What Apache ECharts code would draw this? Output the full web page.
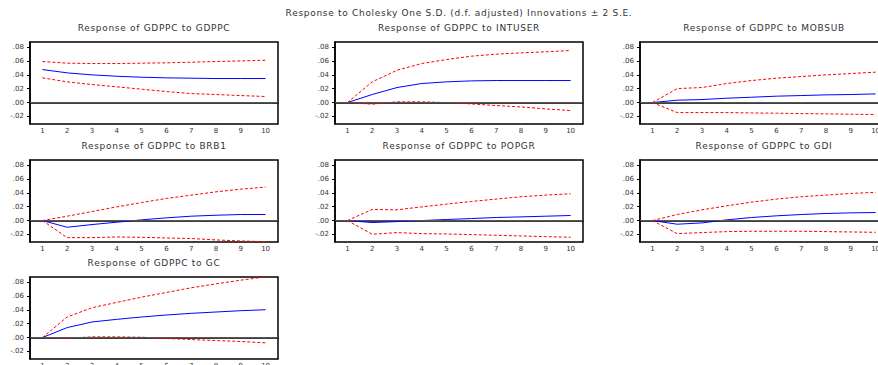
<!DOCTYPE html>
<html>
<head>
<meta charset="utf-8">
<script src="https://cdn.jsdelivr.net/npm/echarts@6/dist/echarts.min.js"></script>
<style>
  html, body { margin: 0; padding: 0; background: #fff; }
  #chart { width: 878px; height: 365px; }
  /* EViews spreads its title letters a little */
  #chart text[style*="9px"] { letter-spacing: 0.7px; }
</style>
</head>
<body>
<div id="chart"></div>
<script>
// impulse responses, periods 1..10
const periods = ['1', '2', '3', '4', '5', '6', '7', '8', '9', '10'];
const yTicks = [-0.02, 0, 0.02, 0.04, 0.06, 0.08];
const shocks = ['GDPPC', 'INTUSER', 'MOBSUB', 'BRB1', 'POPGR', 'GDI', 'GC'];

const respGDPPC  = [0.0477, 0.0429, 0.0400, 0.0380, 0.0366, 0.0357, 0.0352, 0.0347, 0.0347, 0.0347];
const upperGDPPC = [0.0593, 0.0569, 0.0564, 0.0564, 0.0569, 0.0574, 0.0583, 0.0593, 0.0602, 0.0612];
const lowerGDPPC = [0.0357, 0.0299, 0.0260, 0.0227, 0.0193, 0.0159, 0.0130, 0.0116, 0.0101, 0.0087];

const respINTUSER  = [0, 0.0116, 0.0217, 0.0275, 0.0299, 0.0313, 0.0318, 0.0318, 0.0318, 0.0318];
const upperINTUSER = [0, 0.0299, 0.0467, 0.0564, 0.0622, 0.0670, 0.0699, 0.0718, 0.0733, 0.0752];
const lowerINTUSER = [0, -0.0024, 0.0010, 0.0010, 0.0000, -0.0020, -0.0043, -0.0063, -0.0092, -0.0116];

const respMOBSUB  = [0, 0.0034, 0.0043, 0.0063, 0.0077, 0.0092, 0.0101, 0.0111, 0.0116, 0.0125];
const upperMOBSUB = [0, 0.0202, 0.0217, 0.0275, 0.0318, 0.0352, 0.0376, 0.0400, 0.0419, 0.0439];
const lowerMOBSUB = [0, -0.0145, -0.0145, -0.0145, -0.0150, -0.0154, -0.0159, -0.0164, -0.0169, -0.0173];

const respBRB1  = [0, -0.0097, -0.0058, -0.0024, 0.0010, 0.0039, 0.0063, 0.0077, 0.0087, 0.0087];
const upperBRB1 = [0, 0.0063, 0.0130, 0.0198, 0.0260, 0.0319, 0.0367, 0.0415, 0.0454, 0.0483];
const lowerBRB1 = [0, -0.0247, -0.0247, -0.0237, -0.0242, -0.0252, -0.0260, -0.0280, -0.0295, -0.0305];

const respPOPGR  = [0, -0.0029, -0.0015, 0, 0.0015, 0.0029, 0.0044, 0.0053, 0.0063, 0.0073];
const upperPOPGR = [0, 0.0160, 0.0155, 0.0198, 0.0237, 0.0276, 0.0310, 0.0344, 0.0368, 0.0387];
const lowerPOPGR = [0, -0.0198, -0.0174, -0.0189, -0.0194, -0.0203, -0.0213, -0.0223, -0.0232, -0.0242];

const respGDI  = [0, -0.0053, -0.0034, 0.0010, 0.0044, 0.0068, 0.0087, 0.0102, 0.0111, 0.0116];
const upperGDI = [0, 0.0087, 0.0155, 0.0213, 0.0266, 0.0310, 0.0344, 0.0368, 0.0392, 0.0407];
const lowerGDI = [0, -0.0189, -0.0174, -0.0160, -0.0155, -0.0155, -0.0155, -0.0160, -0.0165, -0.0170];

const respGC  = [0, 0.0144, 0.0225, 0.0263, 0.0297, 0.0326, 0.0350, 0.0369, 0.0388, 0.0402];
const upperGC = [0, 0.0297, 0.0431, 0.0508, 0.0584, 0.0651, 0.0719, 0.0776, 0.0829, 0.0877];
const lowerGC = [0, -0.0010, 0.0010, 0.0010, 0.0005, -0.0014, -0.0029, -0.0043, -0.0057, -0.0077];

const panels = [
  [respGDPPC, upperGDPPC, lowerGDPPC],
  [respINTUSER, upperINTUSER, lowerINTUSER],
  [respMOBSUB, upperMOBSUB, lowerMOBSUB],
  [respBRB1, upperBRB1, lowerBRB1],
  [respPOPGR, upperPOPGR, lowerPOPGR],
  [respGDI, upperGDI, lowerGDI],
  [respGC, upperGC, lowerGC]
];

const colLeft = [30, 335, 640];
const rowTop = [42, 160, 277];
const boxW = 248, boxH = 82;
const font = 'DejaVu Sans';

function fmt(v) {
  const s = Math.abs(v).toFixed(2).replace(/^0/, '');
  return v < 0 ? '-' + s : s;
}

const titles = [{
  text: 'Response to Cholesky One S.D. (d.f. adjusted) Innovations \u00b1 2 S.E.',
  left: 459, top: 8, textAlign: 'center', padding: 0,
  textStyle: { fontFamily: font, fontSize: 9, fontWeight: 'normal', color: '#333' }
}];
const grids = [], xAxes = [], yAxes = [], series = [];

panels.forEach((p, i) => {
  const c = i % 3, r = Math.floor(i / 3);
  titles.push({
    text: 'Response of GDPPC to ' + shocks[i],
    left: colLeft[c] + boxW / 2, top: rowTop[r] - 18.5, textAlign: 'center', padding: 0,
    textStyle: { fontFamily: font, fontSize: 9, fontWeight: 'normal', color: '#333' }
  });
  grids.push({
    left: colLeft[c], top: rowTop[r], width: boxW, height: boxH,
    outerBoundsMode: 'none',
    show: true, borderColor: '#000', borderWidth: 1.5
  });
  xAxes.push({
    type: 'category', gridIndex: i, data: periods, boundaryGap: true,
    axisLine: { lineStyle: { color: '#000', width: 1.5 } },
    axisTick: { length: 3, interval: 0, lineStyle: { color: '#000' } },
    axisLabel: { interval: 0, margin: 3, fontFamily: font, fontSize: 7, color: '#333' },
    splitLine: { show: false }
  });
  yAxes.push({
    type: 'value', gridIndex: i, min: -0.031, max: 0.0875,
    axisLine: { show: true, lineStyle: { color: '#000', width: 1.5 } },
    axisTick: { show: true, length: 3, customValues: yTicks, lineStyle: { color: '#000' } },
    axisLabel: { customValues: yTicks, formatter: fmt, margin: 6, fontFamily: font, fontSize: 7, color: '#333' },
    splitLine: { show: false }
  });
  series.push({
    type: 'line', xAxisIndex: i, yAxisIndex: i, data: p[0], symbol: 'none',
    lineStyle: { color: '#0000ff', width: 1 }, z: 3,
    markLine: {
      silent: true, symbol: 'none', label: { show: false },
      lineStyle: { color: '#555', type: 'solid', width: 1 },
      data: [{ yAxis: 0 }]
    }
  });
  [p[1], p[2]].forEach(band => {
    series.push({
      type: 'line', xAxisIndex: i, yAxisIndex: i, data: band, symbol: 'none',
      lineStyle: { color: '#ff0000', width: 1, type: [3, 2] }, z: 4
    });
  });
});

const chart = echarts.init(document.getElementById('chart'), null, { renderer: 'svg' });
chart.setOption({
  animation: false,
  backgroundColor: '#fff',
  title: titles,
  grid: grids,
  xAxis: xAxes,
  yAxis: yAxes,
  series: series
});
</script>
</body>
</html>
